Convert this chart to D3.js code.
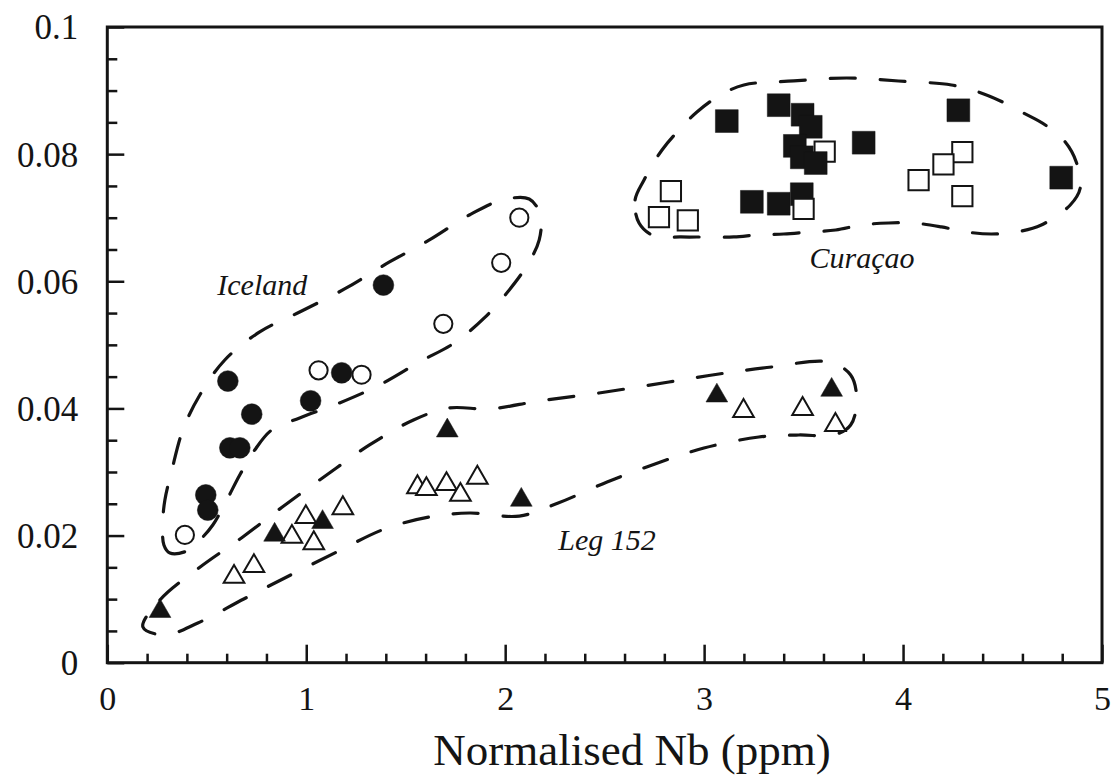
<!DOCTYPE html>
<html>
<head>
<meta charset="utf-8">
<script src="https://cdn.jsdelivr.net/npm/d3@7"></script>
<style>
  html, body { margin: 0; padding: 0; background: #fff; }
  svg { display: block; }
</style>
</head>
<body>
<svg id="chart" width="1116" height="779"></svg>
<script>
// ---------------- DATA ----------------
const xTicksMajor = [0, 1, 2, 3, 4, 5];
const xTickLabels = ["0", "1", "2", "3", "4", "5"];
const yTicksMajor = [0, 0.02, 0.04, 0.06, 0.08, 0.1];
const yTickLabels = ["0", "0.02", "0.04", "0.06", "0.08", "0.1"];
const xTitle = "Normalised Nb (ppm)";

// Iceland
const icelandFilled = [
  [1.388, 0.0594], [0.606, 0.0443], [0.726, 0.0391], [1.022, 0.0412],
  [1.178, 0.0456], [0.616, 0.0338], [0.666, 0.0338], [0.495, 0.0264],
  [0.505, 0.0240]
];
const icelandOpen = [
  [2.071, 0.0700], [1.980, 0.0629], [1.689, 0.0533], [1.062, 0.0460],
  [1.278, 0.0453], [0.390, 0.0201]
];
// Leg 152
const legFilled = [
  [0.265, 0.0081], [0.841, 0.0201], [1.082, 0.0221], [1.709, 0.0365],
  [2.081, 0.0256], [3.064, 0.0420], [3.641, 0.0429]
];
const legOpen = [
  [0.637, 0.0135], [0.737, 0.0152], [0.928, 0.0198], [1.038, 0.0188],
  [0.998, 0.0229], [1.184, 0.0243], [1.559, 0.0276], [1.604, 0.0273],
  [1.705, 0.0281], [1.775, 0.0264], [1.860, 0.0291], [3.198, 0.0396],
  [3.495, 0.0399], [3.660, 0.0374]
];
// Curaçao
const curacaoFilled = [
  [3.114, 0.0852], [3.375, 0.0877], [3.495, 0.0862], [3.536, 0.0843],
  [3.456, 0.0813], [3.491, 0.0795], [3.561, 0.0786], [3.802, 0.0818],
  [4.278, 0.0869], [4.795, 0.0763], [3.240, 0.0725], [3.375, 0.0722],
  [3.491, 0.0737]
];
const curacaoOpen = [
  [2.833, 0.0742], [2.773, 0.0701], [2.918, 0.0696], [3.500, 0.0714],
  [3.606, 0.0804], [4.078, 0.0759], [4.203, 0.0784], [4.298, 0.0803],
  [4.298, 0.0734]
];

// Hand-drawn field envelopes (data coordinates)
const icelandField = [
  [0.2795, 0.02245], [0.2845, 0.01852], [0.3146, 0.01726], [0.3999, 0.01757],
  [0.4651, 0.01930], [0.5303, 0.02166], [0.6006, 0.02560], [0.6658, 0.02953],
  [0.7411, 0.03346], [0.8264, 0.03661], [0.9669, 0.03850], [1.1676, 0.04086],
  [1.3683, 0.04369], [1.5690, 0.04731], [1.7446, 0.05030], [1.8951, 0.05423],
  [2.0206, 0.05864], [2.1109, 0.06257], [2.1711, 0.06650], [2.1761, 0.07043],
  [2.1209, 0.07294], [1.9854, 0.07278], [1.8198, 0.07043], [1.6192, 0.06650],
  [1.4185, 0.06304], [1.1927, 0.05879], [0.9669, 0.05517], [0.7662, 0.05203],
  [0.5906, 0.04762], [0.4651, 0.04211], [0.3798, 0.03661], [0.3246, 0.03031],
  [0.2895, 0.02560]
];
const legField = [
  [0.1791, 0.00560], [0.2644, 0.00986], [0.4601, 0.01490], [0.6809, 0.01978],
  [0.8866, 0.02465], [1.1024, 0.02953], [1.3181, 0.03425], [1.5389, 0.03818],
  [1.7195, 0.04007], [1.9202, 0.03991], [2.1711, 0.04117], [2.4721, 0.04243],
  [2.8234, 0.04416], [3.0743, 0.04542], [3.3402, 0.04652], [3.6262, 0.04731],
  [3.7366, 0.04526], [3.7667, 0.04133], [3.7366, 0.03739], [3.6513, 0.03582],
  [3.4757, 0.03582], [3.2750, 0.03550], [2.9990, 0.03377], [2.7531, 0.03126],
  [2.5123, 0.02843], [2.2664, 0.02512], [2.0707, 0.02307], [1.8198, 0.02355],
  [1.6192, 0.02292], [1.3934, 0.02103], [1.1525, 0.01741], [0.9217, 0.01380],
  [0.6859, 0.01002], [0.4551, 0.00625], [0.2895, 0.00436]
];
const curacaoField = [
  [2.6729, 0.06917], [2.6528, 0.07279], [2.6980, 0.07594], [2.7883, 0.08066],
  [2.8736, 0.08380], [2.9639, 0.08663], [3.0743, 0.08915], [3.1997, 0.09088],
  [3.4506, 0.09151], [3.7165, 0.09198], [3.9774, 0.09151], [4.2434, 0.09088],
  [4.3788, 0.08978], [4.4893, 0.08837], [4.6046, 0.08648], [4.7150, 0.08459],
  [4.8153, 0.08191], [4.8705, 0.07877], [4.8906, 0.07468], [4.8404, 0.07200],
  [4.6949, 0.06886], [4.5695, 0.06776], [4.4440, 0.06744], [4.3186, 0.06776],
  [4.1931, 0.06855], [4.0526, 0.06917], [3.9272, 0.06917], [3.7917, 0.06886],
  [3.6613, 0.06807], [3.5308, 0.06776], [3.4004, 0.06744], [3.2699, 0.06729],
  [3.1495, 0.06697], [3.0040, 0.06697], [2.8836, 0.06697], [2.7481, 0.06713]
];
const fieldLabels = [
  { text: "Iceland", x: 0.779, y: 0.0578 },
  { text: "Curaçao", x: 3.794, y: 0.0621 },
  { text: "Leg 152", x: 2.512, y: 0.0177 }
];

// ---------------- CHART ----------------
const svg = d3.select("#chart");
const INK = "#141414";
const FONT = "'Liberation Serif', 'Times New Roman', serif";

const x = d3.scaleLinear().domain([0, 5]).range([107.3, 1102]);
const y = d3.scaleLinear().domain([0, 0.1]).range([662.7, 27]);

// minor ticks
const xMinor = d3.range(0, 5.0001, 0.2).filter(v => Math.abs(v - Math.round(v)) > 1e-6);
const yMinor = d3.range(0, 0.1001, 0.005).filter(v => Math.abs(v / 0.02 - Math.round(v / 0.02)) > 1e-6);

const gAx = svg.append("g");

// x axis
const xAxisMajor = d3.axisBottom(x).tickValues(xTicksMajor)
  .tickFormat((d, i) => xTickLabels[i]).tickSizeInner(-18).tickSizeOuter(0).tickPadding(23);
const xAxisMinor = d3.axisBottom(x).tickValues(xMinor)
  .tickFormat("").tickSizeInner(-9).tickSizeOuter(0);
const gx = gAx.append("g").attr("transform", `translate(0,${y(0)})`).call(xAxisMajor);
gAx.append("g").attr("transform", `translate(0,${y(0)})`).call(xAxisMinor);

// y axis
const yAxisMajor = d3.axisLeft(y).tickValues(yTicksMajor)
  .tickFormat((d, i) => yTickLabels[i]).tickSizeInner(-17).tickSizeOuter(0).tickPadding(29);
const yAxisMinor = d3.axisLeft(y).tickValues(yMinor)
  .tickFormat("").tickSizeInner(-10).tickSizeOuter(0);
const gy = gAx.append("g").attr("transform", `translate(${x(0)},0)`).call(yAxisMajor);
gAx.append("g").attr("transform", `translate(${x(0)},0)`).call(yAxisMinor);

gAx.selectAll(".domain").remove();
gAx.selectAll(".tick line").attr("stroke", INK).attr("stroke-width", 2.5);
gAx.selectAll(".tick text").attr("fill", INK).attr("font-family", FONT);
gx.selectAll(".tick text").attr("font-size", 34);
gy.selectAll(".tick text").attr("font-size", 35).attr("dy", "0.34em");

// frame
svg.append("rect")
  .attr("x", x(0)).attr("y", y(0.1))
  .attr("width", x(5) - x(0)).attr("height", y(0) - y(0.1))
  .attr("fill", "none").attr("stroke", INK).attr("stroke-width", 3);

// axis title
svg.append("text")
  .attr("x", 632).attr("y", 765)
  .attr("text-anchor", "middle")
  .attr("font-family", FONT).attr("font-size", 45).attr("fill", INK)
  .text(xTitle);

// envelopes
const env = d3.line().x(d => x(d[0])).y(d => y(d[1])).curve(d3.curveCatmullRomClosed.alpha(0.5));
[icelandField, legField, curacaoField].forEach(f => {
  svg.append("path").attr("d", env(f))
    .attr("fill", "none").attr("stroke", INK).attr("stroke-width", 3.2)
    .attr("stroke-dasharray", "25,25").attr("stroke-linecap", "round");
});

// labels
svg.selectAll("text.field").data(fieldLabels).enter().append("text")
  .attr("class", "field")
  .attr("x", d => x(d.x)).attr("y", d => y(d.y))
  .attr("text-anchor", "middle")
  .attr("font-family", FONT).attr("font-style", "italic")
  .attr("font-size", 30).attr("fill", INK)
  .text(d => d.text);

// symbols
const sym = (type, size) => d3.symbol().type(type).size(size)();
function drawPoints(data, type, size, filled) {
  svg.append("g").selectAll("path").data(data).enter().append("path")
    .attr("d", sym(type, size))
    .attr("transform", d => `translate(${x(d[0])},${y(d[1])})`)
    .attr("fill", filled ? INK : "#fff")
    .attr("stroke", INK)
    .attr("stroke-width", filled ? 0.5 : 2);
}
drawPoints(legOpen, d3.symbolTriangle, 185, false);
drawPoints(legFilled, d3.symbolTriangle, 205, true);
drawPoints(icelandFilled, d3.symbolCircle, 340, true);
drawPoints(icelandOpen, d3.symbolCircle, 260, false);

// Curaçao squares: drawn from top to bottom so lower squares overlap upper ones
const squares = curacaoFilled.map(d => ({ v: d, f: true }))
  .concat(curacaoOpen.map(d => ({ v: d, f: false })))
  .sort((a, b) => b.v[1] - a.v[1]);
svg.append("g").selectAll("path").data(squares).enter().append("path")
  .attr("d", d => sym(d3.symbolSquare, d.f ? 520 : 410))
  .attr("transform", d => `translate(${x(d.v[0])},${y(d.v[1])})`)
  .attr("fill", d => d.f ? INK : "#fff")
  .attr("stroke", INK)
  .attr("stroke-width", d => d.f ? 0.5 : 2);
</script>
</body>
</html>
